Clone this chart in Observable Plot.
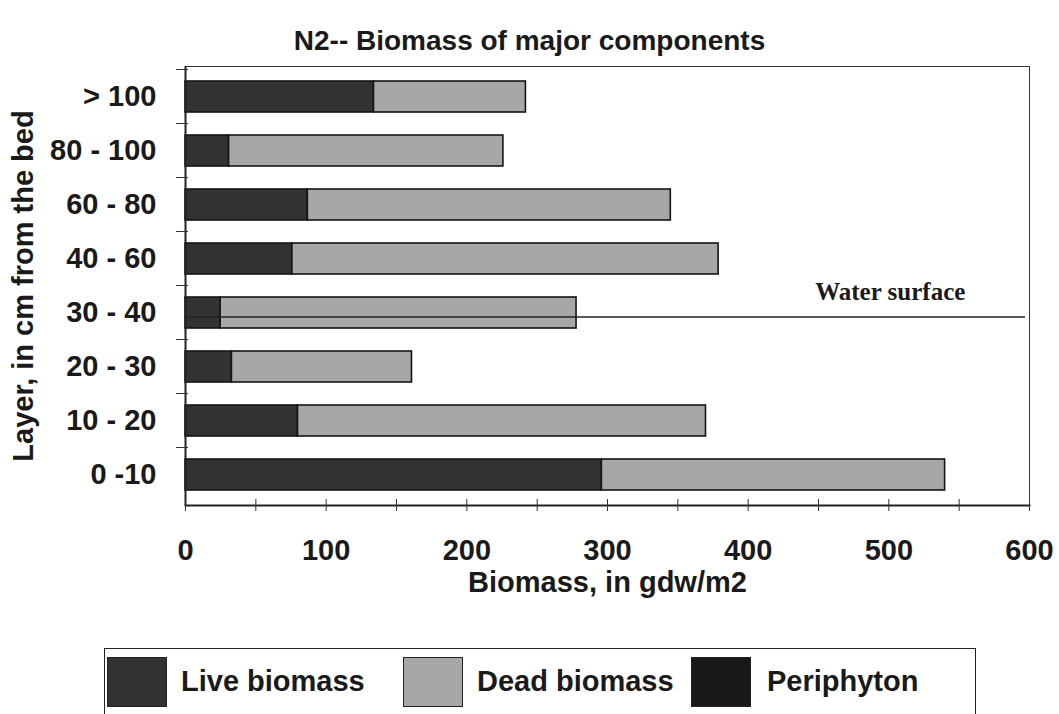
<!DOCTYPE html>
<html>
<head>
<meta charset="utf-8">
<script src="https://cdn.jsdelivr.net/npm/d3@7"></script>
<script src="https://cdn.jsdelivr.net/npm/@observablehq/plot@0.6"></script>
<style>
  html, body { margin: 0; padding: 0; background: #fff; }
  #page { position: relative; width: 1059px; height: 714px; overflow: hidden; font-family: "Liberation Sans", Arial, Helvetica, sans-serif; font-weight: bold; color: #1a1a1a; }
  #title { position: absolute; left: 0; top: 25px; width: 1059px; text-align: center; font-size: 28px; line-height: normal; }
  #chart { position: absolute; left: 0; top: 60px; }
  #legend { position: absolute; left: 104px; top: 648px; width: 870px; height: 80px; border: 1.5px solid #222; border-bottom: none; }
  .sw { position: absolute; top: 8px; width: 60px; height: 50px; border: 1px solid #222; box-sizing: border-box; }
  .lt { position: absolute; top: 14px; font-size: 29px; line-height: 36px; white-space: nowrap; }
</style>
</head>
<body>
<div id="page">
  <div id="title"></div>
  <div id="chart"></div>
  <div id="legend"></div>
</div>
<script>
// ---- data ----
const titleText = "N2-- Biomass of major components";
const layers = ["> 100", "80 - 100", "60 - 80", "40 - 60", "30 - 40", "20 - 30", "10 - 20", "0 -10"];
const components = ["Live biomass", "Dead biomass", "Periphyton"];
const liveBiomass = [134, 31, 87, 76, 25, 33, 80, 296];
const deadBiomass = [108, 195, 258, 303, 253, 128, 290, 244];
const periphyton = [0, 0, 0, 0, 0, 0, 0, 0];
const xTicks = [0, 50, 100, 150, 200, 250, 300, 350, 400, 450, 500, 550, 600];
const waterLayer = "30 - 40";
const waterLabel = "Water surface";
const xTitle = "Biomass, in gdw/m2";
const yTitle = "Layer, in cm from the bed";
const colors = ["#323232", "#a7a7a7", "#181818"];

// long table
const series = [liveBiomass, deadBiomass, periphyton];
const table = [];
layers.forEach((layer, i) => {
  components.forEach((c, j) => {
    if (series[j][i] > 0) table.push({layer, component: c, value: series[j][i]});
  });
});

document.getElementById("title").textContent = titleText;

const font = '"Liberation Sans", Arial, Helvetica, sans-serif';
const chart = Plot.plot({
  width: 1059,
  height: 546,
  marginTop: 6,
  marginLeft: 185,
  marginRight: 30,
  marginBottom: 101,
  style: {fontFamily: font, fontWeight: "bold", color: "#1a1a1a", background: "transparent", overflow: "visible"},
  x: {domain: [0, 600]},
  y: {domain: layers, paddingInner: 0.42, paddingOuter: 0.21},
  color: {domain: components, range: colors},
  marks: [
    Plot.barX(table, Plot.stackX({y: "layer", x: "value", fill: "component", stroke: "#151515", strokeWidth: 1.6, order: components})),
    Plot.ruleY([waterLayer], {y: d => d, stroke: "#222", strokeWidth: 1.5, dy: 4, insetRight: 4}),
    Plot.text([waterLabel], {x: 501, y: () => waterLayer, text: d => d, fontFamily: '"Liberation Serif", "Times New Roman", serif', fontSize: 25, fontWeight: "bold", fill: "#1a1a1a", dy: -21}),
    Plot.frame({stroke: "#333", strokeWidth: 1}),
    Plot.ruleX([0], {stroke: "#222", strokeWidth: 2}),
    Plot.frame({anchor: "bottom", stroke: "#222", strokeWidth: 2}),
    Plot.axisX(xTicks, {tickSize: 6, tickPadding: 28, tickFormat: d => d % 100 === 0 ? String(d) : "", fontSize: 29, fontWeight: "bold", label: null, stroke: "#333"}),
    Plot.axisX(xTicks, {tickSize: -6, text: null, label: null, stroke: "#333"}),
    Plot.axisY({tickSize: 0, tickPadding: 29, fontSize: 29, fontWeight: "bold", label: null}),
    Plot.axisY({tickSize: 12, dx: 3, dy: -27.5, text: null, label: null, stroke: "#333"}),
    Plot.text([xTitle], {frameAnchor: "bottom", text: d => d, fontSize: 29, fontWeight: "bold", dy: 86, fill: "#1a1a1a"}),
    Plot.text([yTitle], {frameAnchor: "left", textAnchor: "middle", text: d => d, fontSize: 29, fontWeight: "bold", rotate: -90, dx: -162, fill: "#1a1a1a"})
  ]
});
document.getElementById("chart").appendChild(chart);

// legend
const legend = document.getElementById("legend");
const swLeft = [2, 298, 586];
const txLeft = [76, 372, 662];
components.forEach((c, j) => {
  const sw = document.createElement("div");
  sw.className = "sw";
  sw.style.left = swLeft[j] + "px";
  sw.style.background = colors[j];
  legend.appendChild(sw);
  const t = document.createElement("div");
  t.className = "lt";
  t.style.left = txLeft[j] + "px";
  t.textContent = c;
  legend.appendChild(t);
});
</script>
</body>
</html>
